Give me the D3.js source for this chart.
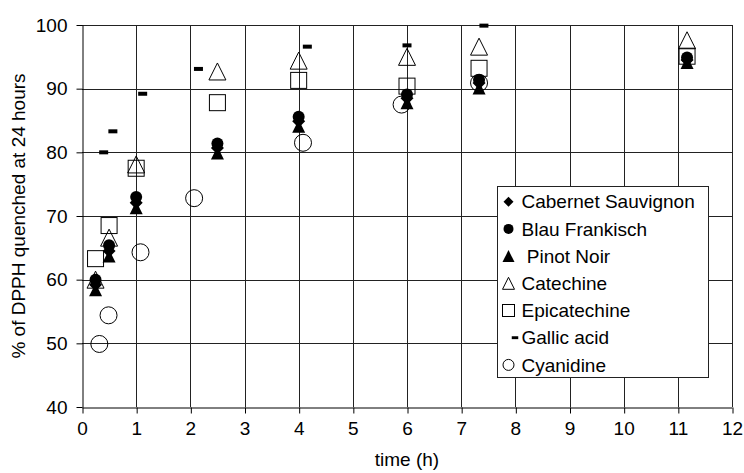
<!DOCTYPE html>
<html>
<head>
<meta charset="utf-8">
<script src="https://cdn.jsdelivr.net/npm/d3@7"></script>
<style>
  body { margin: 0; background: #fff; }
  svg { display: block; font-family: "Liberation Sans", Arial, sans-serif; }
</style>
</head>
<body>
<script>
const W = 744, H = 473;

// sampling times (h)
const times = [0.25, 0.5, 1, 2.5, 4, 6, 7.33, 11.17];
const gallicTimes = [0.4, 0.57, 1.12, 2.15, 4.16, 6.0, 7.42];
const cyanTimes = [0.32, 0.49, 1.08, 2.07, 4.08, 5.9, 7.33];

// % of DPPH quenched
const cabernet = [59.2, 64.5, 72.1, 80.7, 84.9, 88.5, 90.9, 94.5];
const blau = [60.0, 65.4, 73.0, 81.4, 85.6, 89.1, 91.4, 94.9];
const pinot = [58.4, 63.7, 71.3, 79.9, 84.1, 87.8, 90.1, 94.1];
const catechine = [60.0, 66.6, 78.1, 92.7, 94.4, 95.0, 96.6, 97.6];
const epicatechine = [63.3, 68.5, 77.5, 87.8, 91.3, 90.4, 93.2, 95.1];
const gallic = [80.0, 83.3, 89.2, 93.1, 96.6, 96.8, 99.9];
const cyanidine = [49.9, 54.4, 64.3, 72.8, 81.5, 87.5, 90.9];

const seriesNames = ['Cabernet Sauvignon', 'Blau Frankisch', ' Pinot Noir', 'Catechine', 'Epicatechine', 'Gallic acid', 'Cyanidine'];
const seriesShapes = ['diamond', 'dot', 'tri', 'otri', 'osq', 'dash', 'ocirc'];
const seriesX = [times, times, times, times, times, gallicTimes, cyanTimes];
const seriesY = [cabernet, blau, pinot, catechine, epicatechine, gallic, cyanidine];

const xTicks = d3.range(0, 13);
const yTicks = [40, 50, 60, 70, 80, 90, 100];

const x = d3.scaleLinear().domain([0, 12]).range([82, 732]);
const y = d3.scaleLinear().domain([40, 100]).range([407, 25]);

const svg = d3.select('body').append('svg').attr('width', W).attr('height', H);

// grid
svg.append('g').selectAll('line').data(xTicks.slice(1)).join('line')
  .attr('x1', d => Math.round(x(d)) + 0.5).attr('x2', d => Math.round(x(d)) + 0.5)
  .attr('y1', y(100)).attr('y2', y(40))
  .attr('stroke', '#222').attr('stroke-width', 1);
svg.append('g').selectAll('line').data(yTicks.slice(1)).join('line')
  .attr('y1', d => Math.round(y(d)) + 0.5).attr('y2', d => Math.round(y(d)) + 0.5)
  .attr('x1', x(0)).attr('x2', x(12))
  .attr('stroke', '#222').attr('stroke-width', 1);

// axes
const xAxis = d3.axisBottom(x).tickValues(xTicks).tickSize(6).tickPadding(8).tickSizeOuter(0);
const yAxis = d3.axisLeft(y).tickValues(yTicks).tickSize(6).tickPadding(9).tickSizeOuter(0);
const gx = svg.append('g').attr('transform', `translate(0,${Math.round(y(40)) + 0.5})`).call(xAxis);
const gy = svg.append('g').attr('transform', `translate(${Math.round(x(0)) + 0.5},0)`).call(yAxis);
[gx, gy].forEach(g => {
  g.selectAll('path,line').attr('stroke', '#000').attr('stroke-width', 1);
  g.selectAll('text').attr('font-family', '"Liberation Sans", Arial, sans-serif')
    .attr('font-size', 19).attr('fill', '#000');
});
gx.selectAll('.tick line').attr('transform', 'translate(0.5,0)');

svg.append('text').attr('x', (x(0) + x(12)) / 2).attr('y', 466)
  .attr('text-anchor', 'middle').attr('font-size', 19).text('time (h)');
svg.append('text').attr('transform', `translate(25,${(y(40) + y(100)) / 2}) rotate(-90)`)
  .attr('text-anchor', 'middle').attr('font-size', 19).text('% of DPPH quenched at 24 hours');

// marker drawing
function marker(g, shape, s) {
  if (shape === 'diamond') {
    g.append('path').attr('d', `M0,${-s / 2}L${s / 2},0L0,${s / 2}L${-s / 2},0Z`).attr('fill', '#000');
  } else if (shape === 'dot') {
    g.append('circle').attr('r', s / 2).attr('fill', '#000');
  } else if (shape === 'tri' || shape === 'otri') {
    const p = g.append('path').attr('d', `M0,${-s / 2}L${s / 2},${s / 2}L${-s / 2},${s / 2}Z`);
    if (shape === 'tri') p.attr('fill', '#000');
    else p.attr('fill', 'none').attr('stroke', '#000').attr('stroke-width', 1);
  } else if (shape === 'osq') {
    g.append('rect').attr('x', -s / 2).attr('y', -s / 2).attr('width', s).attr('height', s)
      .attr('fill', 'none').attr('stroke', '#000').attr('stroke-width', 1);
  } else if (shape === 'dash') {
    g.append('rect').attr('x', -s / 2).attr('y', -s / 4.5).attr('width', s).attr('height', s / 2.25).attr('fill', '#000');
  } else if (shape === 'ocirc') {
    g.append('circle').attr('r', s / 2).attr('fill', 'none').attr('stroke', '#000').attr('stroke-width', 1);
  }
}
const plotSize = { diamond: 13, dot: 12, tri: 13, otri: 17, osq: 16, dash: 9, ocirc: 17 };
const legendSize = { diamond: 10, dot: 10, tri: 12, otri: 12, osq: 12, dash: 6.5, ocirc: 11 };

seriesNames.forEach((name, i) => {
  const shape = seriesShapes[i];
  const pts = seriesY[i].map((v, j) => [seriesX[i][j], v]);
  svg.append('g').selectAll('g').data(pts).join('g')
    .attr('transform', d => `translate(${x(d[0])},${y(d[1])})`)
    .each(function () { marker(d3.select(this), shape, plotSize[shape]); });
});

// legend
const lg = svg.append('g');
lg.append('rect').attr('x', 497.5).attr('y', 186.5).attr('width', 211).attr('height', 191)
  .attr('fill', '#fff').attr('stroke', '#222').attr('stroke-width', 1);
seriesNames.forEach((name, i) => {
  const shape = seriesShapes[i];
  const cy = 201.7 + i * 27.2;
  const mx = shape === 'dash' ? 515 : 508.5;
  marker(lg.append('g').attr('transform', `translate(${mx},${cy})`), shape, legendSize[shape]);
  lg.append('text').attr('x', 521.5).attr('y', cy).attr('dy', '0.35em')
    .attr('font-size', 19).attr('xml:space', 'preserve').style('white-space', 'pre').text(name);
});
</script>
</body>
</html>
